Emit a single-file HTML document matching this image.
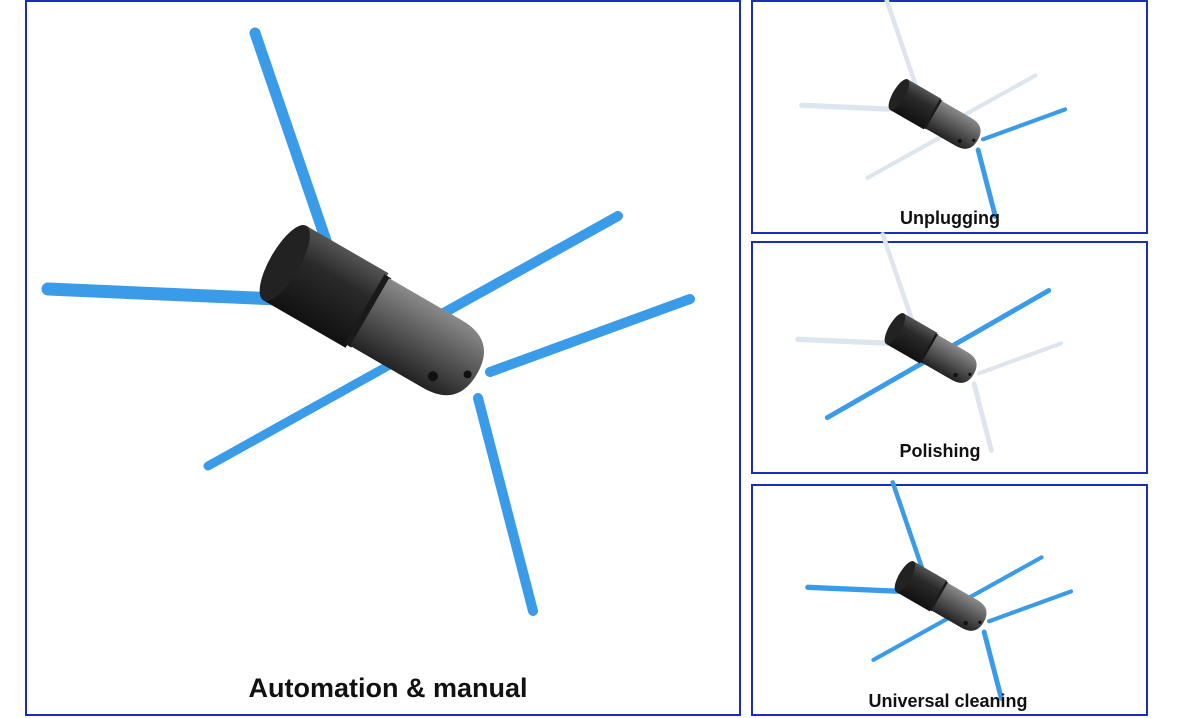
<!DOCTYPE html>
<html><head><meta charset="utf-8"><style>
html,body{margin:0;padding:0;background:#fff;}
svg{display:block}
text{font-family:"Liberation Sans",sans-serif;font-weight:bold;fill:#111}
</style></head><body>
<svg width="1199" height="718" viewBox="0 0 1199 718" xmlns="http://www.w3.org/2000/svg">
<defs>
<linearGradient id="blk" x1="0" y1="0" x2="0" y2="1">
<stop offset="0" stop-color="#555"/><stop offset="0.35" stop-color="#2a2a2a"/><stop offset="1" stop-color="#111"/></linearGradient>
<linearGradient id="gry" x1="0" y1="0" x2="0" y2="1">
<stop offset="0" stop-color="#8a8a8a"/><stop offset="0.3" stop-color="#6a6a6a"/><stop offset="1" stop-color="#222"/></linearGradient>
<g id="body">
<g transform="translate(380,318) rotate(30)">
<rect x="-110" y="-43" width="95" height="86" fill="url(#blk)"/>
<ellipse cx="-110" cy="0" rx="15" ry="43" fill="#222"/>
<rect x="-18" y="-40" width="8" height="80" fill="#1a1a1a"/>
<path d="M-12,-39 L72,-39 Q112,-39 112,0 Q112,39 72,39 L-12,39 Z" fill="url(#gry)"/>
<circle cx="75" cy="24" r="5" fill="#111"/>
<circle cx="104" cy="5" r="4" fill="#111"/>
</g>
</g>
</defs>
<rect x="26" y="1" width="714" height="714" fill="none" stroke="#1a2fb5" stroke-width="2"/>
<rect x="752" y="1" width="395" height="232" fill="none" stroke="#1a2fb5" stroke-width="2"/>
<rect x="752" y="242" width="395" height="231" fill="none" stroke="#1a2fb5" stroke-width="2"/>
<rect x="752" y="485" width="395" height="230" fill="none" stroke="#1a2fb5" stroke-width="2"/>

<g stroke-linecap="round">
<line x1="255" y1="33" x2="332" y2="258" stroke="#3a9be8" stroke-width="11"/>
<line x1="48" y1="289" x2="300" y2="300" stroke="#3a9be8" stroke-width="13"/>
<line x1="618" y1="216" x2="440" y2="315" stroke="#3a9be8" stroke-width="10"/>
<line x1="690" y1="299" x2="490" y2="372" stroke="#3a9be8" stroke-width="10"/>
<line x1="208" y1="466" x2="395" y2="362" stroke="#3a9be8" stroke-width="9"/>
<line x1="478" y1="398" x2="533" y2="611" stroke="#3a9be8" stroke-width="10"/>
</g>
<use href="#body"/>
<text x="388" y="697" font-size="27" text-anchor="middle">Automation &amp; manual</text>

<g transform="translate(940,118) scale(0.41) translate(-385,-320)" stroke-linecap="round">
<line x1="255" y1="33" x2="332" y2="258" stroke="#dde6ee" stroke-width="11"/>
<line x1="48" y1="289" x2="300" y2="300" stroke="#dde6ee" stroke-width="13"/>
<line x1="618" y1="216" x2="440" y2="315" stroke="#dde6ee" stroke-width="10"/>
<line x1="208" y1="466" x2="395" y2="362" stroke="#dde6ee" stroke-width="10"/>
<line x1="690" y1="299" x2="490" y2="372" stroke="#3a9be8" stroke-width="10"/>
<line x1="478" y1="398" x2="520" y2="560" stroke="#3a9be8" stroke-width="12"/>
<use href="#body"/>
</g>
<text x="950" y="224" font-size="18" text-anchor="middle">Unplugging</text>

<g transform="translate(936,352) scale(0.41) translate(-385,-320)" stroke-linecap="round">
<line x1="255" y1="33" x2="332" y2="258" stroke="#dde6ee" stroke-width="11"/>
<line x1="48" y1="289" x2="300" y2="300" stroke="#dde6ee" stroke-width="13"/>
<line x1="690" y1="299" x2="490" y2="372" stroke="#dde6ee" stroke-width="10"/>
<line x1="478" y1="398" x2="520" y2="560" stroke="#dde6ee" stroke-width="12"/>
<line x1="660" y1="170" x2="120" y2="480" stroke="#3a9be8" stroke-width="12"/>
<use href="#body"/>
</g>
<text x="940" y="457" font-size="18" text-anchor="middle">Polishing</text>

<g transform="translate(946,600) scale(0.41) translate(-385,-320)" stroke-linecap="round">
<line x1="255" y1="33" x2="332" y2="258" stroke="#3a9be8" stroke-width="11"/>
<line x1="48" y1="289" x2="300" y2="300" stroke="#3a9be8" stroke-width="13"/>
<line x1="618" y1="216" x2="440" y2="315" stroke="#3a9be8" stroke-width="10"/>
<line x1="690" y1="299" x2="490" y2="372" stroke="#3a9be8" stroke-width="10"/>
<line x1="208" y1="466" x2="395" y2="362" stroke="#3a9be8" stroke-width="10"/>
<line x1="478" y1="398" x2="520" y2="560" stroke="#3a9be8" stroke-width="12"/>
<use href="#body"/>
</g>
<text x="948" y="707" font-size="18" text-anchor="middle">Universal cleaning</text>
</svg>
</body></html>
